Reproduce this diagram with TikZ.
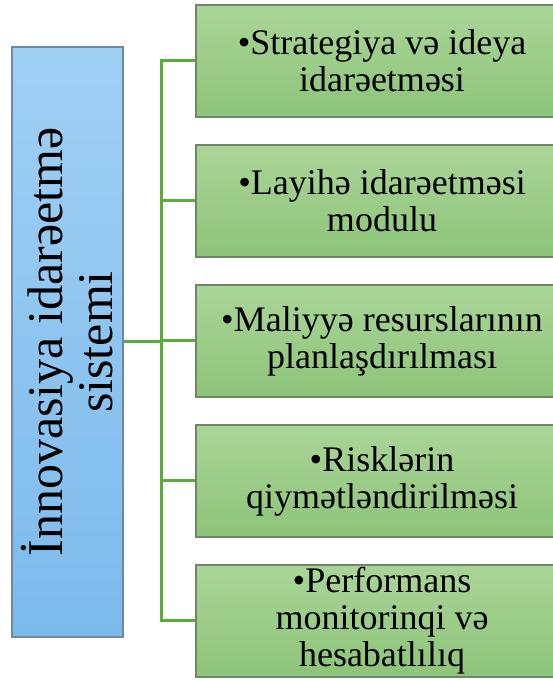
\documentclass[tikz,border=0pt]{standalone}
\usepackage{fontspec}
\setmainfont{Liberation Serif}
\usepackage{tikz}
\usetikzlibrary{calc}
\usetikzlibrary{positioning}
\definecolor{linkgreen}{RGB}{92,172,58}
\definecolor{modtop}{RGB}{170,213,152}
\definecolor{modbot}{RGB}{141,196,121}
\definecolor{modedge}{RGB}{112,134,104}
\definecolor{systop}{RGB}{160,208,244}
\definecolor{sysbot}{RGB}{124,186,236}
\definecolor{sysedge}{RGB}{112,136,160}
\tikzset{
  sysbox/.style={draw=sysedge, line width=1.5pt, top color=systop, bottom color=sysbot,
      minimum width=111pt, minimum height=590pt, inner sep=0pt},
  systxt/.style={rotate=90, align=center, inner sep=0pt,
      font=\fontsize{50}{50}\selectfont},
  modbox/.style={draw=modedge, line width=1.5pt, top color=modtop, bottom color=modbot,
      minimum width=372pt, minimum height=112pt, inner sep=0pt, align=center,
      font=\fontsize{36}{37}\selectfont},
  link/.style={draw=linkgreen, line width=3pt},
}

\begin{document}
\begin{tikzpicture}[x=1pt,y=1pt]
      \useasboundingbox (0,0) rectangle (553,681);

      \node [sysbox] (sys) at (67.5,339) {};
      \node [systxt] (systext) at (sys.center) {İnnovasiya idarəetmə\\sistemi};

      \foreach \Y/\Text [count=\i] in {620/{•Strategiya və ideya\\idarəetməsi},
          480/{•Layihə idarəetməsi\\modulu},
          340/{•Maliyyə resurslarının\\planlaşdırılması},
          200/{•Risklərin\\qiymətləndirilməsi},
          60/{•Performans\\monitorinqi və\\hesabatlılıq}}{
          \node [modbox] (mod\i) at (382,\Y) {\Text};
        }

      % trunk from the system box to every module
      \draw [link] (sys.east) -- ++(38,0) coordinate (hub);
      \foreach \i in {1,...,5}{
          \draw [link] (hub) |- (mod\i.west);
        }
\end{tikzpicture}
\end{document}
